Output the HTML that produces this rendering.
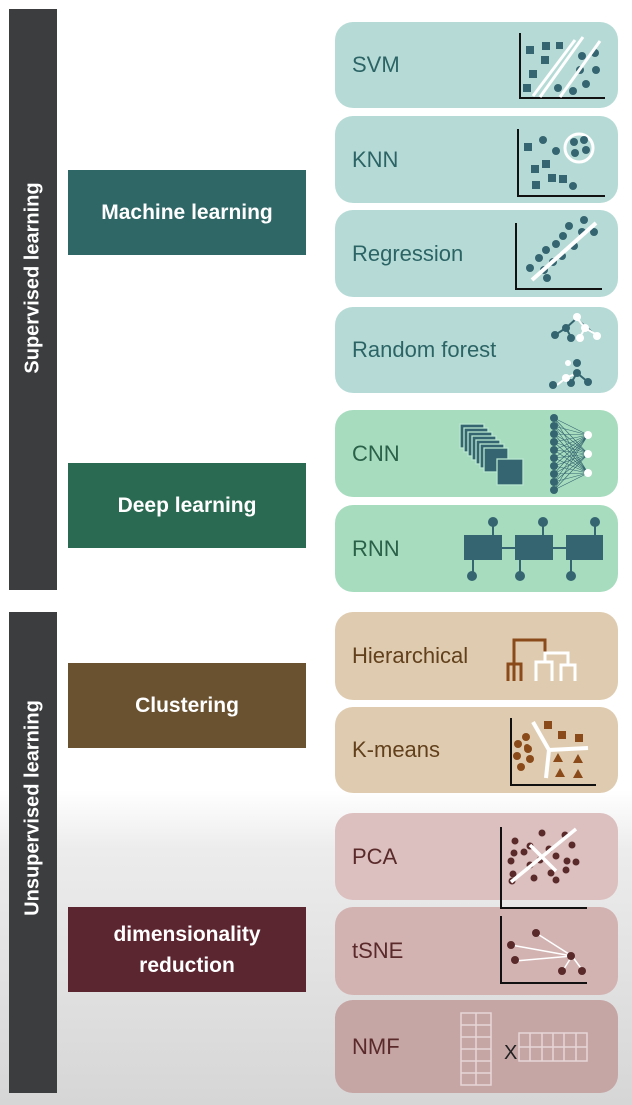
<!DOCTYPE html>
<html><head><meta charset="utf-8"><style>
html,body{margin:0;padding:0}
body{width:632px;height:1105px;position:relative;overflow:hidden;font-family:"Liberation Sans",sans-serif;
background:linear-gradient(to bottom,#fff 0px,#fff 790px,#ececec 850px,#d6d6d6 1105px);}
.bar{position:absolute;left:9px;width:48px;background:#3b3d3f}
.bar span{position:absolute;left:50%;top:50%;transform:translate(-50%,-50%) rotate(-90deg);white-space:nowrap;color:#fff;font-weight:bold;font-size:20px}
.mid{position:absolute;left:68px;width:238px;height:85px;display:flex;align-items:center;justify-content:center;text-align:center;color:#fff;font-weight:bold;font-size:21px;line-height:31px}
.card{position:absolute;left:335px;width:283px;border-radius:18px;font-size:22px;display:flex;align-items:center;padding-left:17px;box-sizing:border-box}
.t{background:#b6dbd6;color:#2c6466}
.g{background:#a7dcbf;color:#2a6148}
.b{background:#dfccb0;color:#62401c}
.r{color:#5a2a2a}
svg{position:absolute;left:0;top:0}
</style></head><body>
<div class="bar" style="top:9px;height:581px"><span style="margin-top:-22px">Supervised learning</span></div>
<div class="bar" style="top:612px;height:481px"><span style="margin-top:-45px">Unsupervised learning</span></div>

<div class="mid" style="top:170px;background:#2f6666">Machine learning</div>
<div class="mid" style="top:463px;background:#2b6a52">Deep learning</div>
<div class="mid" style="top:663px;background:#6a5230">Clustering</div>
<div class="mid" style="top:907px;background:#5c2630">dimensionality<br>reduction</div>

<div class="card t" style="top:22px;height:86px">SVM</div>
<div class="card t" style="top:116px;height:87px">KNN</div>
<div class="card t" style="top:210px;height:87px">Regression</div>
<div class="card t" style="top:307px;height:86px">Random forest</div>
<div class="card g" style="top:410px;height:87px">CNN</div>
<div class="card g" style="top:505px;height:87px">RNN</div>
<div class="card b" style="top:612px;height:88px">Hierarchical</div>
<div class="card b" style="top:707px;height:86px">K-means</div>
<div class="card r" style="top:813px;height:87px;background:#dcc0bf">PCA</div>
<div class="card r" style="top:907px;height:88px;background:#d2b3b2">tSNE</div>
<div class="card r" style="top:1000px;height:93px;background:#c6a5a5">NMF</div>

<svg width="632" height="1105" viewBox="0 0 632 1105">
<g fill="#356570" stroke="none">
<!-- SVM -->
<path d="M520 33V98H605" stroke="#111" stroke-width="2" fill="none"/>
<rect x="526" y="46" width="8" height="8"/><rect x="542" y="42" width="8" height="8"/><rect x="541" y="56" width="8" height="8"/><rect x="529" y="70" width="8" height="8"/><rect x="523" y="84" width="8" height="8"/><rect x="556" y="42" width="7" height="7"/>
<circle cx="595" cy="53" r="4"/><circle cx="582" cy="56" r="4"/><circle cx="580" cy="70" r="4"/><circle cx="596" cy="70" r="4"/><circle cx="586" cy="84" r="4"/><circle cx="573" cy="91" r="4"/><circle cx="558" cy="88" r="4"/>
<path d="M533 96L575 40M540 97L583 37M560 97L600 41" stroke="#fff" stroke-width="3"/>
<!-- KNN -->
<path d="M518 129V196H605" stroke="#111" stroke-width="2" fill="none"/>
<rect x="524" y="143" width="8" height="8"/><rect x="542" y="160" width="8" height="8"/><rect x="531" y="165" width="8" height="8"/><rect x="532" y="181" width="8" height="8"/><rect x="548" y="174" width="8" height="8"/><rect x="559" y="175" width="8" height="8"/>
<circle cx="543" cy="140" r="4"/><circle cx="556" cy="151" r="4"/><circle cx="573" cy="186" r="4"/>
<circle cx="579" cy="148" r="14" fill="none" stroke="#fff" stroke-width="3"/>
<circle cx="574" cy="142" r="4"/><circle cx="584" cy="140" r="4"/><circle cx="575" cy="153" r="4"/><circle cx="586" cy="150" r="4"/>
<!-- Regression -->
<path d="M516 223V289H602" stroke="#111" stroke-width="2" fill="none"/>
<g><circle cx="584" cy="220" r="4"/><circle cx="569" cy="226" r="4"/><circle cx="582" cy="232" r="4"/><circle cx="563" cy="236" r="4"/><circle cx="594" cy="232" r="4"/><circle cx="556" cy="244" r="4"/><circle cx="574" cy="246" r="4"/><circle cx="546" cy="250" r="4"/><circle cx="562" cy="256" r="4"/><circle cx="539" cy="258" r="4"/><circle cx="553" cy="262" r="4"/><circle cx="544" cy="270" r="4"/><circle cx="530" cy="268" r="4"/><circle cx="547" cy="278" r="4"/></g>
<path d="M532 280L596 223" stroke="#fff" stroke-width="4"/>
<!-- Random forest -->
<g stroke="#356570" stroke-width="2"><path d="M577 318L566 328L555 335M566 328L571 337"/><path d="M577 373L571 383M577 373L588 382"/></g>
<g stroke="#fff" stroke-width="2"><path d="M577 318L585 328L597 335M585 328L580 337"/><path d="M577 373L566 378L557 385"/></g>
<circle cx="566" cy="328" r="4"/><circle cx="555" cy="335" r="4"/><circle cx="571" cy="338" r="4"/>
<circle cx="577" cy="363" r="4"/><circle cx="577" cy="373" r="4"/><circle cx="571" cy="383" r="4"/><circle cx="588" cy="382" r="4"/><circle cx="553" cy="385" r="4"/>
<g fill="#fff"><circle cx="577" cy="317" r="4"/><circle cx="585" cy="328" r="4"/><circle cx="597" cy="336" r="4"/><circle cx="580" cy="338" r="4"/><circle cx="566" cy="378" r="4"/><circle cx="568" cy="363" r="3"/></g>
<!-- CNN -->
<g stroke="#b9e6cf" stroke-width="1.3">
<rect x="460" y="424" width="24" height="24"/><rect x="464" y="428" width="24" height="24"/><rect x="468" y="432" width="24" height="24"/><rect x="472" y="436" width="24" height="24"/><rect x="476" y="440" width="24" height="24"/><rect x="480" y="444" width="24" height="24"/><rect x="484" y="448" width="24" height="24"/><rect x="497" y="459" width="26" height="26"/></g>
<g stroke="#356570" stroke-width="0.6">
<path d="M554 418L588 435M554 418L588 454M554 418L588 473M554 426L588 435M554 426L588 454M554 426L588 473M554 434L588 435M554 434L588 454M554 434L588 473M554 442L588 435M554 442L588 454M554 442L588 473M554 450L588 435M554 450L588 454M554 450L588 473M554 458L588 435M554 458L588 454M554 458L588 473M554 466L588 435M554 466L588 454M554 466L588 473M554 474L588 435M554 474L588 454M554 474L588 473M554 482L588 435M554 482L588 454M554 482L588 473M554 490L588 435M554 490L588 454M554 490L588 473"/></g>
<circle cx="554" cy="418" r="4"/><circle cx="554" cy="426" r="4"/><circle cx="554" cy="434" r="4"/><circle cx="554" cy="442" r="4"/><circle cx="554" cy="450" r="4"/><circle cx="554" cy="458" r="4"/><circle cx="554" cy="466" r="4"/><circle cx="554" cy="474" r="4"/><circle cx="554" cy="482" r="4"/><circle cx="554" cy="490" r="4"/>
<g fill="#fff"><circle cx="588" cy="435" r="4"/><circle cx="588" cy="454" r="4"/><circle cx="588" cy="473" r="4"/></g>
<!-- RNN -->
<g stroke="#356570" stroke-width="2"><path d="M493 522V535M543 522V535M595 522V535M473 560V572M520 560V572M571 560V572M502 548H515M553 548H566"/></g>
<rect x="464" y="535" width="38" height="25"/><rect x="515" y="535" width="38" height="25"/><rect x="566" y="535" width="37" height="25"/>
<circle cx="493" cy="522" r="5"/><circle cx="543" cy="522" r="5"/><circle cx="595" cy="522" r="5"/><circle cx="472" cy="576" r="5"/><circle cx="520" cy="576" r="5"/><circle cx="571" cy="576" r="5"/>
</g>
<!-- Hierarchical -->
<path d="M514 681V640H545V653" stroke="#8a4a1a" stroke-width="3" fill="none"/>
<path d="M508 681V664H521V681" stroke="#8a4a1a" stroke-width="3" fill="none"/>
<path d="M536 681V662H552V681M545 662V653H568V665M561 681V665H575V681" stroke="#fff" stroke-width="3" fill="none"/>
<!-- K-means -->
<path d="M511 718V785H596" stroke="#111" stroke-width="2" fill="none"/>
<path d="M533 722L549 750L546 778M549 750L588 748" stroke="#fff" stroke-width="4" fill="none"/>
<g fill="#8a4a1a"><circle cx="526" cy="737" r="4"/><circle cx="518" cy="744" r="4"/><circle cx="528" cy="749" r="4"/><circle cx="517" cy="756" r="4"/><circle cx="530" cy="759" r="4"/><circle cx="521" cy="767" r="4"/><circle cx="527" cy="747" r="3"/>
<rect x="544" y="721" width="8" height="8"/><rect x="558" y="731" width="8" height="8"/><rect x="575" y="734" width="8" height="8"/>
<path d="M553 762l5-9l5 9zM573 763l5-9l5 9zM555 777l5-9l5 9zM573 778l5-9l5 9z"/></g>
<!-- PCA -->
<path d="M501 827V908H587" stroke="#111" stroke-width="2" fill="none"/>
<g fill="#5a2a2a"><circle cx="515" cy="841" r="3.5"/><circle cx="542" cy="833" r="3.5"/><circle cx="565" cy="835" r="3.5"/><circle cx="530" cy="846" r="3.5"/><circle cx="549" cy="849" r="3.5"/><circle cx="514" cy="853" r="3.5"/><circle cx="524" cy="852" r="3.5"/><circle cx="567" cy="861" r="3.5"/><circle cx="511" cy="861" r="3.5"/><circle cx="540" cy="860" r="3.5"/><circle cx="556" cy="856" r="3.5"/><circle cx="576" cy="862" r="3.5"/><circle cx="513" cy="874" r="3.5"/><circle cx="530" cy="865" r="3.5"/><circle cx="551" cy="873" r="3.5"/><circle cx="566" cy="870" r="3.5"/><circle cx="534" cy="878" r="3.5"/><circle cx="556" cy="880" r="3.5"/><circle cx="512" cy="881" r="3.5"/><circle cx="572" cy="845" r="3.5"/></g>
<path d="M511 882L576 829M530 845L556 871" stroke="#fff" stroke-width="3.5"/>
<!-- tSNE -->
<path d="M501 916V983H587" stroke="#111" stroke-width="2" fill="none"/>
<g stroke="#fff" stroke-width="1.5"><path d="M536 933L572 956M511 945L572 956M515 961L572 956M572 956L562 972M572 956L583 971"/></g>
<g fill="#5a2a2a"><circle cx="536" cy="933" r="4"/><circle cx="511" cy="945" r="4"/><circle cx="515" cy="960" r="4"/><circle cx="571" cy="956" r="4"/><circle cx="562" cy="971" r="4"/><circle cx="582" cy="971" r="4"/></g>
<!-- NMF -->
<g stroke="#e6d6d6" stroke-width="1.5" fill="none">
<rect x="461" y="1013" width="30" height="72"/><path d="M476 1013V1085M461 1025H491M461 1037H491M461 1049H491M461 1061H491M461 1073H491"/>
<rect x="519" y="1033" width="68" height="28"/><path d="M530 1033V1061M542 1033V1061M553 1033V1061M564 1033V1061M576 1033V1061M519 1047H587"/></g>
<text x="504" y="1059" font-family="Liberation Sans" font-size="20" fill="#222">X</text>
</svg>
</body></html>
